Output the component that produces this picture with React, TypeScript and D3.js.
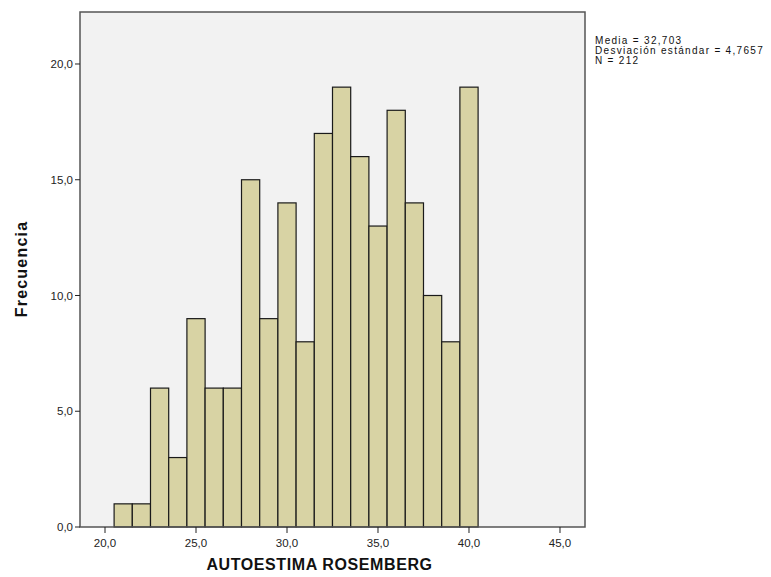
import React from "react";
import * as d3 from "d3";

const binCenters = [21, 22, 23, 24, 25, 26, 27, 28, 29, 30, 31, 32, 33, 34, 35, 36, 37, 38, 39, 40];
const frequencies = [1, 1, 6, 3, 9, 6, 6, 15, 9, 14, 8, 17, 19, 16, 13, 18, 14, 10, 8, 19];
const xTicks = [20, 25, 30, 35, 40, 45];
const yTicks = [0, 5, 10, 15, 20];
const statsLines = ["Media = 32,703", "Desviación estándar = 4,7657", "N = 212"];

const fmt = (v: number) => v.toFixed(1).replace(".", ",");

export default function App() {
  const W = 771, H = 577;
  const left = 80, right = 585, top = 12, bottom = 527;
  const x = d3.scaleLinear().domain([18.626, 46.374]).range([left, right]);
  const y = d3.scaleLinear().domain([0, 22.246]).range([bottom, top]);
  const font = "Arial, 'Liberation Sans', sans-serif";

  return (
    <svg width={W} height={H} style={{ position: "absolute", left: 0, top: 0 }}>
      <rect x={0} y={0} width={W} height={H} fill="#ffffff" />
      <rect x={left} y={top} width={right - left} height={bottom - top} fill="#f2f2f2" />
      {binCenters.map((c, i) => (
        <rect
          key={c}
          x={x(c - 0.5)}
          y={y(frequencies[i])}
          width={x(c + 0.5) - x(c - 0.5)}
          height={y(0) - y(frequencies[i])}
          fill="#d8d3a4"
          stroke="#1a1a1a"
          strokeWidth={1.2}
        />
      ))}
      <rect x={left} y={top} width={right - left} height={bottom - top} fill="none" stroke="#555" strokeWidth={1.5} />
      {yTicks.map((t) => (
        <g key={t}>
          <line x1={left - 5} x2={left} y1={y(t)} y2={y(t)} stroke="#222" strokeWidth={1} />
          <text x={left - 7} y={y(t)} dy="0.35em" textAnchor="end" fontSize={11.5} fontFamily={font} fill="#222">
            {fmt(t)}
          </text>
        </g>
      ))}
      {xTicks.map((t) => (
        <g key={t}>
          <line x1={x(t)} x2={x(t)} y1={bottom} y2={bottom + 6} stroke="#222" strokeWidth={1} />
          <text x={x(t)} y={bottom + 20} textAnchor="middle" fontSize={11.5} fontFamily={font} fill="#222">
            {fmt(t)}
          </text>
        </g>
      ))}
      <text x={(left + right) / 2 - 13} y={570} textAnchor="middle" fontSize={16} fontWeight="bold" fontFamily={font} fill="#111" letterSpacing={0.6}>
        AUTOESTIMA ROSEMBERG
      </text>
      <text
        transform={`translate(27, 269) rotate(-90)`}
        textAnchor="middle"
        fontSize={16}
        fontWeight="bold"
        fontFamily={font}
        fill="#111"
        letterSpacing={1.2}
      >
        Frecuencia
      </text>
      {statsLines.map((s, i) => (
        <text key={s} x={595} y={44 + i * 10} fontSize={10} fontFamily={font} fill="#111" letterSpacing={1.3}>
          {s}
        </text>
      ))}
    </svg>
  );
}
